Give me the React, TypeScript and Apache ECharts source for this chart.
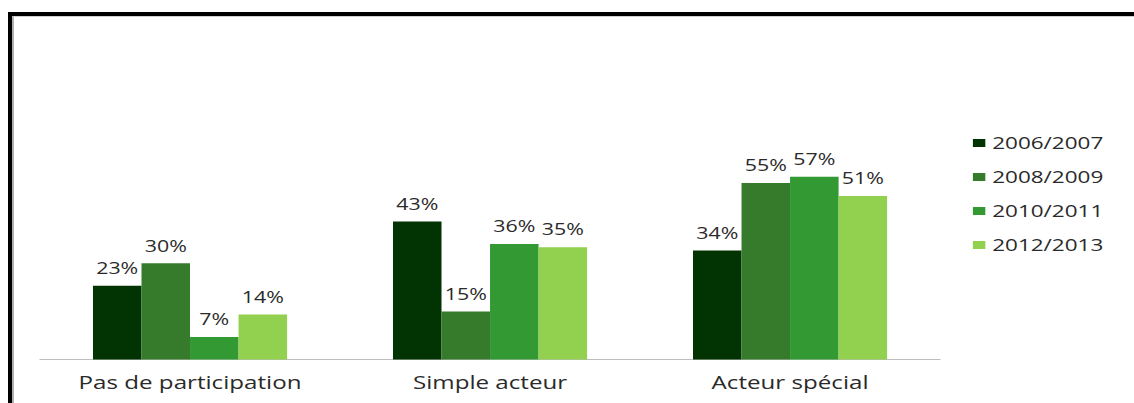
import React, { useEffect, useRef } from "react";
import * as echarts from "echarts";

const categories = ["Pas de participation", "Simple acteur", "Acteur spécial"];
const seriesNames = ["2006/2007", "2008/2009", "2010/2011", "2012/2013"];
const values2006 = [23, 43, 34];
const values2008 = [30, 15, 55];
const values2010 = [7, 36, 57];
const values2012 = [14, 35, 51];
const colors = ["#023302", "#367B2B", "#339933", "#92D050"];

const S = 1.38; // horizontal stretch of the reference image
const W = 1134 / S;
const H = 403;
const FONT = "'Open Sans', 'Noto Sans', sans-serif";
const TEXT = "#2a2a2a";

export default function App() {
  const ref = useRef<HTMLDivElement>(null);

  useEffect(() => {
    if (!ref.current) return;
    const chart = echarts.init(ref.current, undefined, { renderer: "svg" });
    const allValues = [values2006, values2008, values2010, values2012];
    chart.setOption({
      animation: false,
      textStyle: { fontFamily: FONT },
      legend: {
        orient: "vertical",
        left: 700,
        top: 130,
        itemWidth: 9,
        itemHeight: 8,
        itemGap: 18,
        icon: "rect",
        textStyle: { fontFamily: FONT, fontSize: 16.3, color: TEXT },
        data: seriesNames,
      },
      grid: { left: 29, width: 652.2, top: 135, height: 224.5, containLabel: false },
      xAxis: {
        type: "category",
        data: categories,
        axisTick: { show: false },
        axisLine: { lineStyle: { color: "#bdbdbd", width: 1 } },
        axisLabel: { fontFamily: FONT, fontSize: 17.5, color: TEXT, margin: 13 },
      },
      yAxis: {
        type: "value",
        min: 0,
        max: 70,
        show: false,
        splitLine: { show: false },
      },
      series: seriesNames.map((name, i) => ({
        name,
        type: "bar",
        data: allValues[i],
        barGap: "0%",
        barCategoryGap: "35.3%",
        itemStyle: { color: colors[i] },
        label: {
          show: true,
          position: "top",
          distance: 10,
          formatter: "{c}%",
          fontFamily: FONT,
          fontSize: 15.5,
          color: TEXT,
        },
      })),
    });
    return () => chart.dispose();
  }, []);

  return (
    <div style={{ position: "absolute", left: 0, top: 0, width: 1134, height: 403, overflow: "hidden", background: "#fff" }}>
      <div
        ref={ref}
        style={{
          position: "absolute",
          left: 0,
          top: 0,
          width: W,
          height: H,
          transform: `scaleX(${S})`,
          transformOrigin: "0 0",
        }}
      />
      <div
        style={{
          position: "absolute",
          left: 8,
          top: 12,
          width: 1200,
          height: 500,
          borderLeft: "4px solid #000",
          borderTop: "4px solid #000",
          pointerEvents: "none",
        }}
      >
        <div
          style={{
            position: "absolute",
            left: 0,
            top: 0,
            width: 1200,
            height: 500,
            borderLeft: "2px solid #b0b0b0",
            borderTop: "1px solid #d0d0d0",
          }}
        />
      </div>
    </div>
  );
}
